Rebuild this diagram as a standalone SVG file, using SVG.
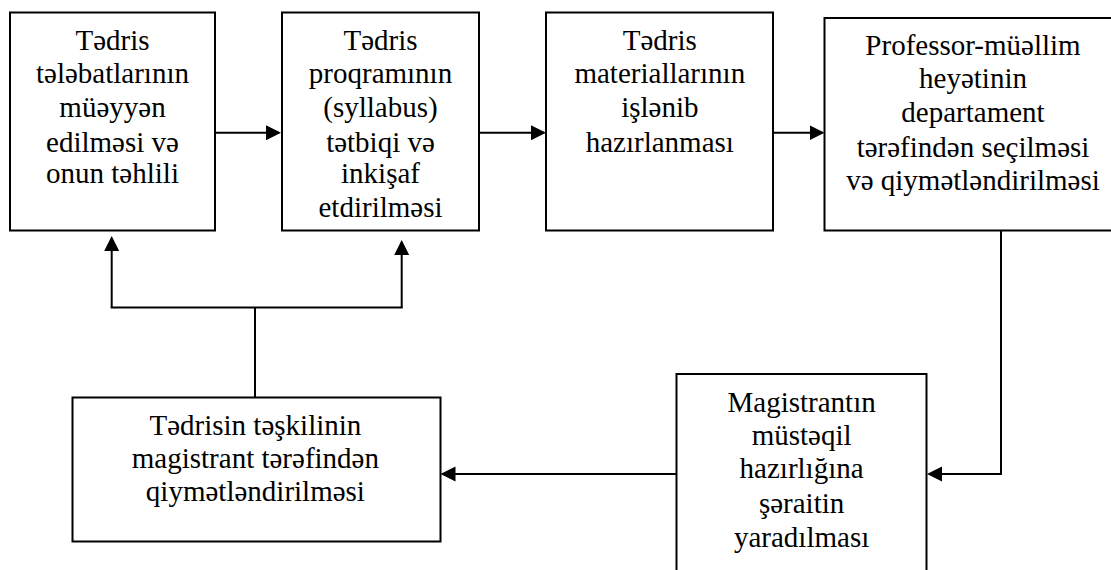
<svg xmlns="http://www.w3.org/2000/svg" width="1111" height="570" viewBox="0 0 1111 570">
<style>
.box{fill:#fff;stroke:#000;stroke-width:2}
.lbl{font-family:"Liberation Serif","Times New Roman",serif;font-size:29px;fill:#000;text-anchor:middle}
.c{fill:none;stroke:#000;stroke-width:2}
</style>
<defs>
<marker id="ah" markerUnits="userSpaceOnUse" markerWidth="16" markerHeight="16" refX="13" refY="7.5" orient="auto">
<path d="M0,0 L15,7.5 L0,15 Z" fill="#000"/>
</marker>
</defs>
<rect width="1111" height="570" fill="#fff"/>
<g id="connectors">
<path class="c" d="M215,132.7 H279" marker-end="url(#ah)"/>
<path class="c" d="M479,132.7 H544" marker-end="url(#ah)"/>
<path class="c" d="M773,132.7 H822.5" marker-end="url(#ah)"/>
<path class="c" d="M1001,230.5 V474 H929" marker-end="url(#ah)"/>
<path class="c" d="M676.5,474 H442.5" marker-end="url(#ah)"/>
<path class="c" d="M255,397.5 V307.5"/>
<path class="c" d="M110.7,307.5 H402.7"/>
<path class="c" d="M111.7,307.5 V238" marker-end="url(#ah)"/>
<path class="c" d="M401.7,307.5 V242" marker-end="url(#ah)"/>
</g>
<g id="n1">
<rect class="box" x="10" y="12.5" width="205" height="218"/>
<text class="lbl" x="112.5" y="50">Tədris</text>
<text class="lbl" x="112.5" y="82.7">tələbatlarının</text>
<text class="lbl" x="112.5" y="116.7">müəyyən</text>
<text class="lbl" x="112.5" y="151.7">edilməsi və</text>
<text class="lbl" x="112.5" y="183.3">onun təhlili</text>
</g>
<g id="n2">
<rect class="box" x="282" y="12.5" width="197" height="218"/>
<text class="lbl" x="380.5" y="50">Tədris</text>
<text class="lbl" x="380.5" y="82.7">proqramının</text>
<text class="lbl" x="380.5" y="116.7">(syllabus)</text>
<text class="lbl" x="380.5" y="151.7">tətbiqi və</text>
<text class="lbl" x="380.5" y="183.3">inkişaf</text>
<text class="lbl" x="380.5" y="217.3">etdirilməsi</text>
</g>
<g id="n3">
<rect class="box" x="546" y="12.5" width="227" height="218"/>
<text class="lbl" x="659.8" y="50">Tədris</text>
<text class="lbl" x="659.8" y="82.7">materiallarının</text>
<text class="lbl" x="659.8" y="116.7">işlənib</text>
<text class="lbl" x="659.8" y="151.7">hazırlanması</text>
</g>
<g id="n4">
<rect class="box" x="824.5" y="18" width="300" height="212.5"/>
<text class="lbl" x="973" y="55">Professor-müəllim</text>
<text class="lbl" x="973" y="88.3">heyətinin</text>
<text class="lbl" x="973" y="121.7">departament</text>
<text class="lbl" x="973" y="156.7">tərəfindən seçilməsi</text>
<text class="lbl" x="973" y="190">və qiymətləndirilməsi</text>
</g>
<g id="n5">
<rect class="box" x="676.5" y="374" width="250" height="220"/>
<text class="lbl" x="801.6" y="411.7">Magistrantın</text>
<text class="lbl" x="801.6" y="445">müstəqil</text>
<text class="lbl" x="801.6" y="478.3">hazırlığına</text>
<text class="lbl" x="801.6" y="513.3">şəraitin</text>
<text class="lbl" x="801.6" y="546.7">yaradılması</text>
</g>
<g id="n6">
<rect class="box" x="72.5" y="397.5" width="368" height="144"/>
<text class="lbl" x="255.4" y="435">Tədrisin təşkilinin</text>
<text class="lbl" x="255.4" y="468.3">magistrant tərəfindən</text>
<text class="lbl" x="255.4" y="500.7">qiymətləndirilməsi</text>
</g>
</svg>
